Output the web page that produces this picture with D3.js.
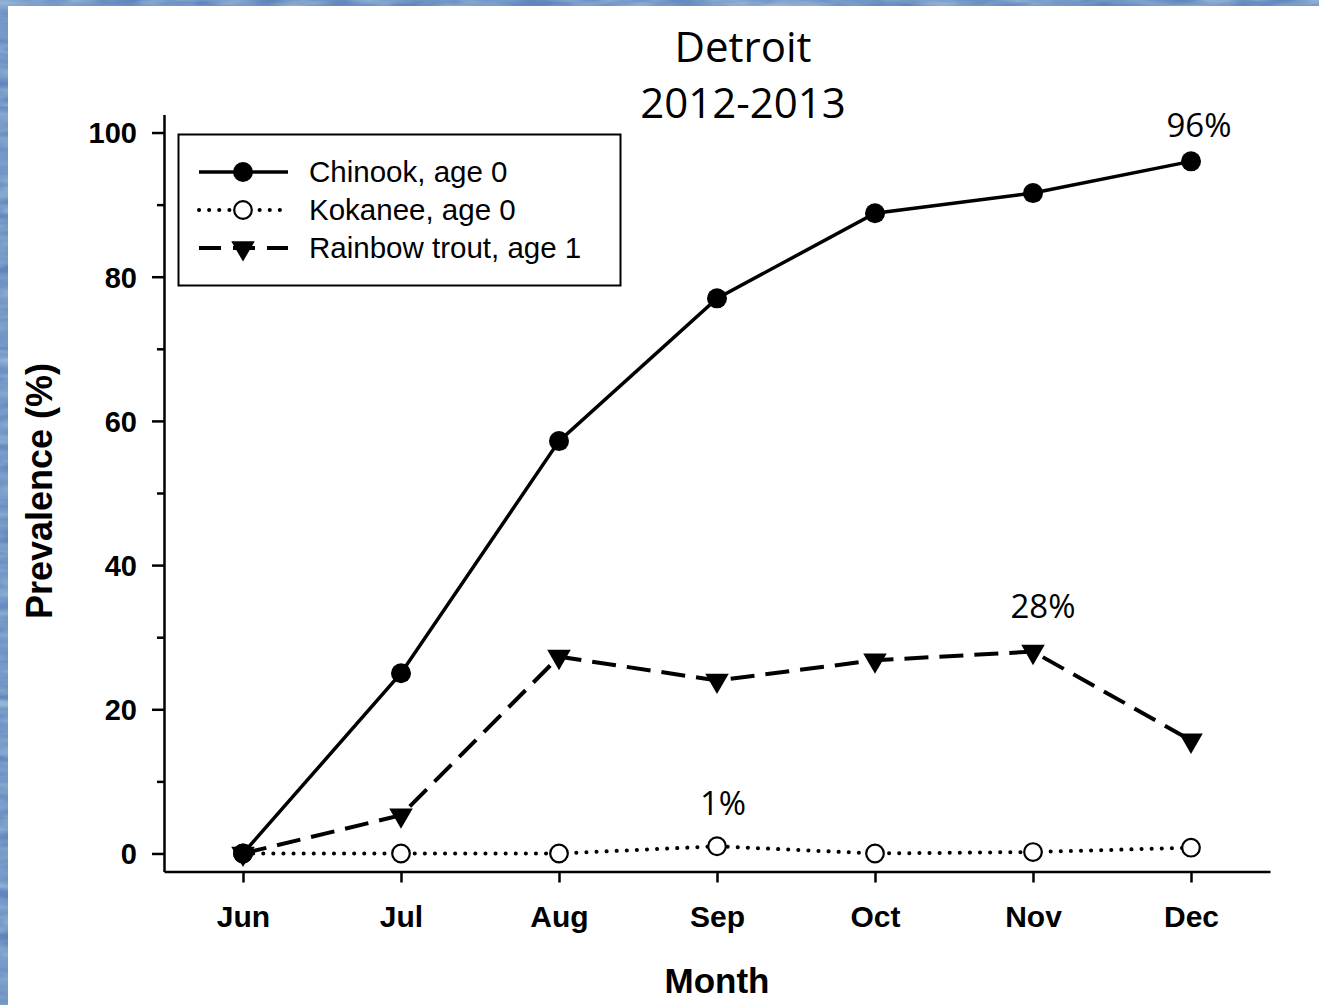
<!DOCTYPE html>
<html>
<head>
<meta charset="utf-8">
<script src="https://cdn.jsdelivr.net/npm/d3@7"></script>
<style>
  html, body { margin: 0; padding: 0; background: #fff; }
  svg { display: block; }
</style>
</head>
<body>
<div id="chart"></div>
<script>
// Monthly prevalence (%) by fish group, Detroit 2012-2013
const months = ["Jun", "Jul", "Aug", "Sep", "Oct", "Nov", "Dec"];
const chinook = [0, 25, 57.2, 77, 88.8, 91.6, 96];
const kokanee = [0, 0, 0, 1, 0, 0.2, 0.8];
const rainbow = [0, 5.3, 27.3, 24, 26.8, 28, 15.7];
const yTicks = [0, 20, 40, 60, 80, 100];
const yMinorTicks = [10, 30, 50, 70, 90];
const seriesNames = ["Chinook, age 0", "Kokanee, age 0", "Rainbow trout, age 1"];
// value callouts: [series, month, text]
const callouts = [
  ["chinook", "Dec", "96%"],
  ["rainbow", "Nov", "28%"],
  ["kokanee", "Sep", "1%"]
];

const W = 1319, H = 1005;
const svg = d3.select("#chart").append("svg").attr("width", W).attr("height", H);

// watery blue frame behind the white panel
const defs = svg.append("defs");
const f = defs.append("filter").attr("id", "water").attr("x", 0).attr("y", 0).attr("width", 1).attr("height", 1);
f.append("feTurbulence").attr("type", "fractalNoise").attr("baseFrequency", "0.02 0.09").attr("numOctaves", 3).attr("seed", 4).attr("result", "n");
f.append("feColorMatrix").attr("in", "n").attr("type", "matrix")
  .attr("values", "0 0 0 0 0.36  0 0 0 0 0.52  0 0 0 0 0.74  0.9 0.9 0.9 0 -0.9").attr("result", "c");
svg.append("rect").attr("width", W).attr("height", H).attr("fill", "#5f85bb");
svg.append("rect").attr("width", W).attr("height", H).attr("fill", "#8fb0d8").attr("filter", "url(#water)").attr("opacity", 0.8);
svg.append("rect").attr("x", 8).attr("y", 6).attr("width", W - 8).attr("height", H - 6).attr("fill", "#fff");

const x = d3.scaleLinear().domain([-0.5, months.length - 0.5]).range([164, 1270]);
const y = d3.scaleLinear().domain([-2.5, 102.5]).range([871.5, 114.5]);
const xm = m => x(months.indexOf(m));

// axes
const axisStroke = 2.5;
const yAxis = svg.append("g").attr("transform", `translate(${x.range()[0]},0)`)
  .call(d3.axisLeft(y).tickValues(yTicks).tickSize(12).tickSizeOuter(0).tickPadding(15).tickFormat(d3.format("d")));
svg.append("g").attr("transform", `translate(${x.range()[0]},0)`)
  .call(d3.axisLeft(y).tickValues(yMinorTicks).tickSize(7).tickSizeOuter(0).tickFormat(""))
  .call(g => g.select(".domain").remove());
const xAxis = svg.append("g").attr("transform", `translate(0,${y.range()[0]})`)
  .call(d3.axisBottom(x).tickValues(d3.range(months.length)).tickSize(11).tickSizeOuter(0).tickPadding(23)
    .tickFormat(i => months[i]));
svg.selectAll(".tick line, .domain").attr("stroke", "#000").attr("stroke-width", axisStroke);
yAxis.selectAll("text").attr("font-family", "'Liberation Sans', Arial, sans-serif").attr("font-weight", "bold").attr("font-size", 29).attr("fill", "#000").attr("dy", "0.36em");
xAxis.selectAll("text").attr("font-family", "'Liberation Sans', Arial, sans-serif").attr("font-weight", "bold").attr("font-size", 30).attr("fill", "#000");

// axis titles
svg.append("text").attr("x", 717).attr("y", 993).attr("text-anchor", "middle")
  .attr("font-family", "'Liberation Sans', Arial, sans-serif").attr("font-weight", "bold").attr("font-size", 35)
  .text("Month");
svg.append("text").attr("transform", "translate(52,491) rotate(-90)").attr("text-anchor", "middle")
  .attr("font-family", "'Liberation Sans', Arial, sans-serif").attr("font-weight", "bold").attr("font-size", 36)
  .text("Prevalence (%)");

// title
const title = svg.append("text").attr("text-anchor", "middle")
  .attr("font-family", "'Open Sans', sans-serif").attr("font-size", 42).attr("fill", "#000");
title.append("tspan").attr("x", 743).attr("y", 62).text("Detroit");
title.append("tspan").attr("x", 743).attr("y", 118).text("2012-2013");

// series styles
const series = [
  { key: "kokanee", values: kokanee, dash: "0.1 10", width: 4, cap: "round", marker: "open" },
  { key: "rainbow", values: rainbow, dash: "24 11", width: 4, cap: "butt", marker: "tri" },
  { key: "chinook", values: chinook, dash: null, width: 3.5, cap: "butt", marker: "dot" }
];
const line = d3.line().x((d, i) => x(i)).y(d => y(d));

series.forEach(s => {
  svg.append("path").datum(s.values).attr("d", line).attr("fill", "none")
    .attr("stroke", "#000").attr("stroke-width", s.width).attr("stroke-linecap", s.cap)
    .attr("stroke-dasharray", s.dash);
});

function drawMarker(g, type, cx, cy) {
  if (type === "dot") {
    g.append("circle").attr("cx", cx).attr("cy", cy).attr("r", 10).attr("fill", "#000");
  } else if (type === "open") {
    g.append("circle").attr("cx", cx).attr("cy", cy).attr("r", 8.8).attr("fill", "#fff")
      .attr("stroke", "#000").attr("stroke-width", 2.2);
  } else {
    g.append("path").attr("d", d3.symbol(d3.symbolTriangle, 240)())
      .attr("transform", `translate(${cx},${cy}) rotate(180)`).attr("fill", "#000");
  }
}
const mg = svg.append("g");
series.forEach(s => s.values.forEach((v, i) => drawMarker(mg, s.marker, x(i), y(v))));

// callouts
const calloutDy = { chinook: -24, rainbow: -34, kokanee: -31 };
const calloutDx = { chinook: 8, rainbow: 10, kokanee: 6 };
callouts.forEach(([key, m, t]) => {
  const s = series.find(d => d.key === key);
  const v = s.values[months.indexOf(m)];
  svg.append("text").attr("x", xm(m) + calloutDx[key]).attr("y", y(v) + calloutDy[key])
    .attr("text-anchor", "middle").attr("font-family", "'Open Sans', sans-serif").attr("font-size", 33)
    .attr("fill", "#000").text(t);
});

// legend
const lg = svg.append("g");
lg.append("rect").attr("x", 178.5).attr("y", 134.5).attr("width", 442).attr("height", 151)
  .attr("fill", "#fff").attr("stroke", "#000").attr("stroke-width", 2);
const legendOrder = ["chinook", "kokanee", "rainbow"];
legendOrder.forEach((key, i) => {
  const s = series.find(d => d.key === key);
  const ly = 172 + i * 38;
  lg.append("line").attr("x1", 199).attr("x2", 288).attr("y1", ly).attr("y2", ly)
    .attr("stroke", "#000").attr("stroke-width", s.width).attr("stroke-linecap", s.cap)
    .attr("stroke-dasharray", s.dash === "24 11" ? "22 12" : s.dash);
  drawMarker(lg, s.marker, 243, ly);
  lg.append("text").attr("x", 309).attr("y", ly + 10)
    .attr("font-family", "'Liberation Sans', Arial, sans-serif").attr("font-size", 29.5)
    .attr("fill", "#000").text(seriesNames[i]);
});
</script>
</body>
</html>
